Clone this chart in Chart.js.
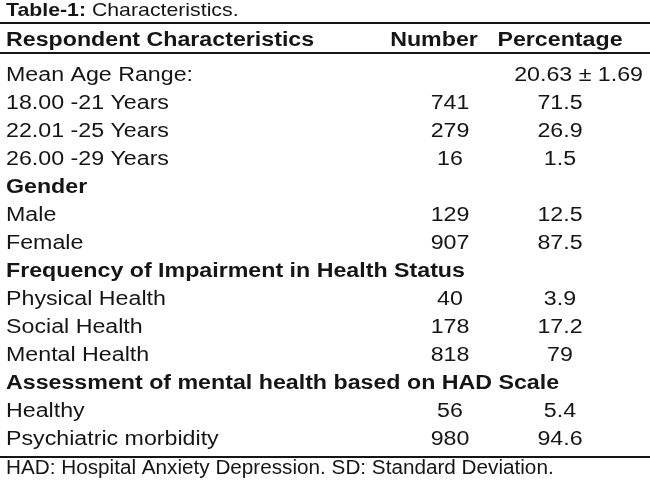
<!DOCTYPE html>
<html>
<head>
<meta charset="utf-8">
<script src="https://cdn.jsdelivr.net/npm/chart.js@4/dist/chart.umd.min.js"></script>
<style>
  html, body { margin: 0; padding: 0; background: #fff; }
  #wrap { width: 650px; height: 486px; }
</style>
</head>
<body>
<div id="wrap"><canvas id="tableChart"></canvas></div>
<script>
// table content
const titleBold = "Table-1:";
const titleRest = " Characteristics.";
const columnHeaders = ["Respondent Characteristics", "Number", "Percentage"];
const rowLabels = [
  "Mean Age Range:",
  "18.00 -21 Years",
  "22.01 -25 Years",
  "26.00 -29 Years",
  "Gender",
  "Male",
  "Female",
  "Frequency of Impairment in Health Status",
  "Physical Health",
  "Social Health",
  "Mental Health",
  "Assessment of mental health based on HAD Scale",
  "Healthy",
  "Psychiatric morbidity"
];
const headingRows = [4, 7, 11];
const numbers = [null, 741, 279, 16, null, 129, 907, null, 40, 178, 818, null, 56, 980];
const percentages = [null, 71.5, 26.9, 1.5, null, 12.5, 87.5, null, 3.9, 17.2, 79, null, 5.4, 94.6];
const meanAge = 20.63;
const meanAgeSD = 1.69;
const footnote = "HAD: Hospital Anxiety Depression. SD: Standard Deviation.";

// layout (scale units: x ~ pixels across, y ~ rows)
const colX = { label: 6, number: 450, percent: 560, mean: 643, numberHead: 434 };
const titleRow = -2.29, headerRow = -1.25, footRow = 14.05;
const ruleRows = [-1.86, -0.77, 13.64];
const stretch = 1.16, titleStretch = 1.12, footStretch = 1.035;
const fontFam = "'Liberation Sans', Arial, sans-serif";
const ink = "#151515";

const fmt = (v) => (v === null ? "" : String(v));

// text drawn at the points the scales place
const tableText = {
  id: "tableText",
  afterDatasetsDraw(chart) {
    const ctx = chart.ctx;
    const xs = chart.scales.x, ys = chart.scales.y;
    const put = (txt, px, py, align, font, sx) => {
      ctx.save();
      ctx.font = font;
      ctx.fillStyle = ink;
      ctx.textBaseline = "middle";
      ctx.translate(px, py);
      ctx.scale(sx || stretch, 1);
      const w = ctx.measureText(txt).width;
      let dx = 0;
      if (align === "center") dx = -w / 2;
      if (align === "right") dx = -w;
      ctx.fillText(txt, dx, 0);
      ctx.restore();
      return w * (sx || stretch);
    };

    // rules
    ctx.save();
    ctx.strokeStyle = ink;
    ctx.lineWidth = 2;
    ruleRows.forEach((r) => {
      const py = Math.round(ys.getPixelForValue(r));
      ctx.beginPath();
      ctx.moveTo(xs.left, py);
      ctx.lineTo(xs.right, py);
      ctx.stroke();
    });
    ctx.restore();

    // title
    const ty = ys.getPixelForValue(titleRow);
    const tx = xs.getPixelForValue(colX.label);
    const bw = put(titleBold, tx, ty, "left", "bold 19px " + fontFam, titleStretch);
    put(titleRest, tx + bw, ty, "left", "19px " + fontFam, titleStretch);

    // column headers
    const hy = ys.getPixelForValue(headerRow);
    put(columnHeaders[0], xs.getPixelForValue(colX.label), hy, "left", "bold 20px " + fontFam);
    put(columnHeaders[1], xs.getPixelForValue(colX.numberHead), hy, "center", "bold 20px " + fontFam);
    put(columnHeaders[2], xs.getPixelForValue(colX.percent), hy, "center", "bold 20px " + fontFam);

    // body cells from the datasets
    chart.data.datasets.forEach((ds, di) => {
      const meta = chart.getDatasetMeta(di);
      meta.data.forEach((pt, i) => {
        const raw = ds.data[i];
        const font = (raw.bold ? "bold " : "") + "20px " + fontFam;
        put(raw.text, pt.x, pt.y, ds.align, font);
      });
    });

    // footnote
    put(footnote, xs.getPixelForValue(colX.label), ys.getPixelForValue(footRow), "left", "20px " + fontFam, footStretch);
  }
};

const labelPoints = rowLabels.map((t, i) => ({ x: colX.label, y: i, text: t, bold: headingRows.includes(i) }));
const numberPoints = numbers
  .map((v, i) => ({ x: colX.number, y: i, text: fmt(v) }))
  .filter((p) => p.text !== "");
const percentPoints = percentages
  .map((v, i) => ({ x: colX.percent, y: i, text: fmt(v) }))
  .filter((p) => p.text !== "");
const meanPoints = [{ x: colX.mean, y: 0, text: meanAge.toFixed(2) + " \u00b1 " + meanAgeSD.toFixed(2) }];

new Chart(document.getElementById("tableChart"), {
  type: "scatter",
  data: {
    datasets: [
      { label: "labels", data: labelPoints, align: "left", pointRadius: 0 },
      { label: "number", data: numberPoints, align: "center", pointRadius: 0 },
      { label: "percent", data: percentPoints, align: "center", pointRadius: 0 },
      { label: "mean", data: meanPoints, align: "right", pointRadius: 0 }
    ]
  },
  options: {
    responsive: true,
    maintainAspectRatio: false,
    animation: false,
    layout: { padding: 0 },
    plugins: { legend: { display: false }, tooltip: { enabled: false } },
    scales: {
      x: { type: "linear", min: 0, max: 650, display: false },
      y: { type: "linear", min: -75 / 28, max: 411 / 28, reverse: true, display: false }
    }
  },
  plugins: [tableText]
});
</script>
</body>
</html>
